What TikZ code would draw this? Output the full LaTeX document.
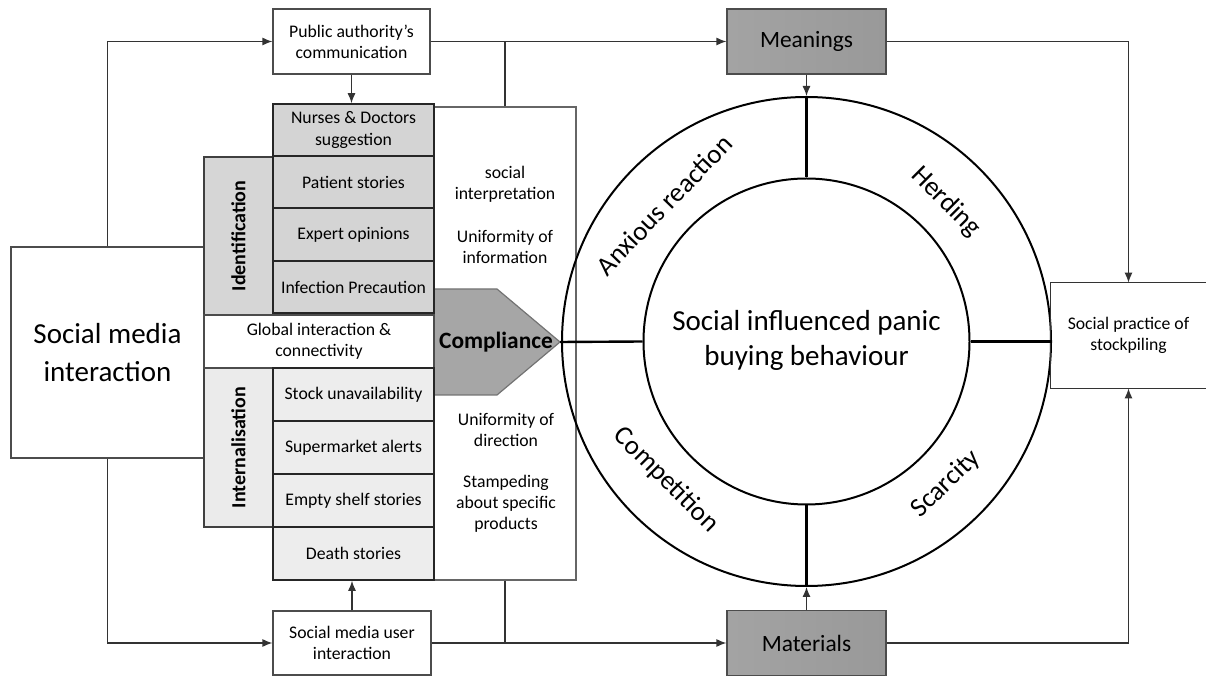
\documentclass[tikz,border=0pt]{standalone}
\usepackage{fontspec}
\setmainfont{Carlito}
\usepackage{tikz}
\usetikzlibrary{arrows,arrows.meta,shapes}

\begin{document}
\begin{tikzpicture}[x=0.5pt,y=-0.5pt,
  box/.style={draw=black!70,line width=0.6pt,align=center,inner sep=1pt,font=\fontsize{8.85}{10.6}\selectfont},
  idbox/.style={box,fill=black!17,draw=black!85,line width=0.8pt,minimum width=80.5pt,minimum height=26pt},
  inbox/.style={box,fill=black!7,draw=black!85,line width=0.8pt,minimum width=80.5pt,minimum height=26.5pt},
  gbox/.style={box,left color=black!36,middle color=black!22,right color=black!40,minimum width=79.5pt,minimum height=32.5pt,font=\fontsize{11.7}{14}\selectfont},
  lbl/.style={align=center,font=\fontsize{8.85}{10.6}\selectfont},
  ring/.style={circle,draw=black,line width=1pt,inner sep=0pt},
  cue/.style={font=\fontsize{13.5}{16}\selectfont,inner sep=0pt},
  spoke/.style={line width=1.2pt},
  arr/.style={-{Latex[length=5pt,width=4pt]},line width=0.6pt,black!80},
  ln/.style={line width=0.6pt,black!80}]

\useasboundingbox (0,0) rectangle (1206,678);

% left side
\node (sm) at (107.5,352.5)[box,minimum width=96.5pt,minimum height=105.5pt,font=\fontsize{14.5}{19}\selectfont] {Social media\\interaction};
\node (pa) at (351.5,41.5)[box,minimum width=78.5pt,minimum height=32.5pt] {Public authority's\\communication};
\node (smui) at (352,643)[box,minimum width=79pt,minimum height=32pt] {Social media user\\interaction};

% text column and compliance
\node (tbox) at (505,343.5)[draw=black!60,line width=0.6pt,minimum width=71pt,minimum height=236.5pt] {};
\node (t1) at (505,184)[lbl] {social\\interpretation};
\node (t2) at (505,247)[lbl] {Uniformity of\\information};
\node (t3) at (506,430)[lbl] {Uniformity of\\direction};
\node (t4) at (506,504)[lbl] {Stampeding\\about specific\\products};
\draw [fill=black!35,draw=black!55,line width=0.6pt] (434,289) -- (497,289) -- (560,342) -- (497,395) -- (434,395) -- cycle;
\coordinate (tip) at (560,342);
\node (compl) at (496,342)[font=\bfseries\fontsize{11.7}{14}\selectfont,inner sep=0pt] {Compliance};

% stack
\node (ident) at (238.5,236)[box,fill=black!16,draw=black!75,rotate=90,minimum width=79pt,minimum height=34.5pt,font=\bfseries\fontsize{10}{12}\selectfont] {Identification};
\node (intern) at (238.5,447.5)[box,fill=black!8,draw=black!75,rotate=90,minimum width=79.5pt,minimum height=34.5pt,font=\bfseries\fontsize{10}{12}\selectfont] {Internalisation};
\node (glob) at (319,341.5)[box,fill=white,minimum width=115pt,minimum height=26.5pt] {Global interaction \&\\connectivity};
\node (nurses) at (353.5,130)[idbox] {Nurses \& Doctors\\suggestion};
\node (patient) at (353.5,182)[idbox] {Patient stories};
\node (expert) at (353.5,234.5)[idbox,minimum height=26.5pt] {Expert opinions};
\node (infect) at (353.5,287)[idbox] {Infection Precaution};
\node (stock) at (353.5,394.5)[inbox] {Stock unavailability};
\node (superm) at (353.5,447.5)[inbox] {Supermarket alerts};
\node (empty) at (353.5,500.5)[inbox] {Empty shelf stories};
\node (death) at (353.5,553.5)[inbox] {Death stories};

% ring
\node (outer) at (806.5,341.5)[ring,minimum size=244.5pt] {};
\node (inner) at (806.5,341.5)[ring,minimum size=163pt] {};
\node (panic) at (806.5,340)[align=center,font=\fontsize{14.5}{17.5}\selectfont,inner sep=0pt] {Social influenced panic\\buying behaviour};
\node (anx) at (664,205)[cue,rotate=46] {Anxious reaction};
\node (herd) at (946,202)[cue,rotate=-45] {Herding};
\node (compet) at (666,480)[cue,rotate=-45] {Competition};
\node (scar) at (946,484)[cue,rotate=44] {Scarcity};

% right side
\node (mean) at (806.5,41.5)[gbox] {Meanings};
\node (mat) at (806.5,643)[gbox] {Materials};
\node (sp) at (1128.5,335.5)[lbl,minimum width=77.5pt,minimum height=52.5pt] {Social practice of\\stockpiling};
\draw [ln] (sp.north east) -- (sp.north west) -- (sp.south west) -- (sp.south east);

% connectors
\draw [arr] (sm.north) |- (pa.west);
\draw [arr] (sm.south) |- (smui.west);
\draw [arr] (pa.south) -- (pa.south |- nurses.north);
\draw [arr] (smui.north) -- (smui.north |- death.south);
\draw [arr] (pa.east) -- (mean.west);
\draw [ln] (tbox.north) -- (tbox.north |- pa.east);
\draw [arr] (smui.east) -- (mat.west);
\draw [ln] (tbox.south) -- (tbox.south |- smui.east);
\draw [arr] (mean.south) -- (outer.north);
\draw [arr] (mat.north) -- (outer.south);
\draw [arr] (mean.east) -| (sp.north);
\draw [arr] (mat.east) -| (sp.south);
\draw [spoke] (outer.north) -- (inner.north);
\draw [spoke] (inner.east) -- (outer.east);
\draw [spoke] (inner.south) -- (outer.south);
\draw [spoke] (tip) -- (inner.west);
\end{tikzpicture}
\end{document}
